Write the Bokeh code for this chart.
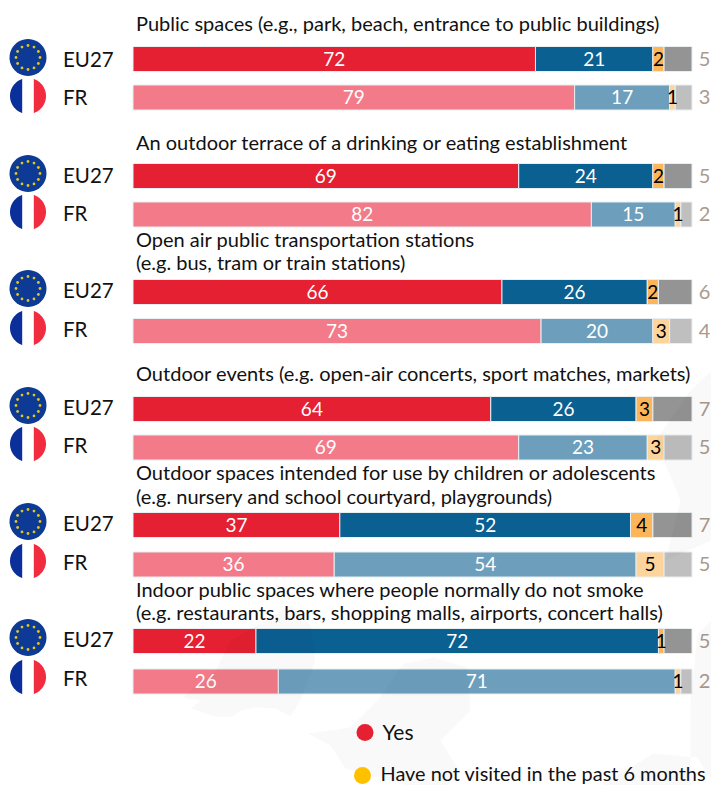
import math
from bokeh.plotting import figure
from bokeh.models import Range1d
from bokeh.core.properties import value
from bokeh.embed import file_html
from bokeh.resources import INLINE

titles = [
    ["Public spaces (e.g., park, beach, entrance to public buildings)"],
    ["An outdoor terrace of a drinking or eating establishment"],
    ["Open air public transportation stations", "(e.g. bus, tram or train stations)"],
    ["Outdoor events (e.g. open-air concerts, sport matches, markets)"],
    ["Outdoor spaces intended for use by children or adolescents", "(e.g. nursery and school courtyard, playgrounds)"],
    ["Indoor public spaces where people normally do not smoke", "(e.g. restaurants, bars, shopping malls, airports, concert halls)"],
]
eu_yes = [72, 69, 66, 64, 37, 22]
eu_no = [21, 24, 26, 26, 52, 72]
eu_nv = [2, 2, 2, 3, 4, 1]
eu_dk = [5, 5, 6, 7, 7, 5]
fr_yes = [79, 82, 73, 69, 36, 26]
fr_no = [17, 15, 20, 23, 54, 71]
fr_nv = [1, 1, 3, 3, 5, 1]
fr_dk = [3, 2, 4, 5, 5, 2]

OFF = 0
W, H = 711, 785
X0, X100 = 132.5 - OFF, 691.5 - OFF
scale = (X100 - X0) / 100
def px(x): return (x - OFF - X0) / scale
def py(y): return y - OFF

p = figure(width=W, height=H, output_backend="svg", toolbar_location=None,
           x_range=Range1d(px(OFF), px(OFF + W)), y_range=Range1d(py(OFF + H), py(OFF)),
           min_border=0, outline_line_color=None)
p.axis.visible = False
p.grid.visible = False

FONT = value("Lato")
eu_c = [58.5, 175.5, 291.5, 408.5, 524.5, 640.5]
fr_c = [97, 214, 330.5, 447, 564, 681]
eu_lab = [58, 174, 289, 406, 522, 638]
fr_lab = [96, 212, 328, 444, 561, 677]
title_y = [22.5, 141.5, [238.5, 261.5], 372.5, [471.5, 495.5], [588.5, 611.5]]
BAR_H = 25

eu_cols = ["#e42032", "#0b6092", "#fdb55a", "#949494"]
fr_cols = ["#f27a89", "#6d9fbd", "#fdd49c", "#bfbfbf"]


def row(vals, yc, cols):
    left = 0
    for v, c in zip(vals, cols):
        p.quad(left=left, right=left + v, top=py(yc - BAR_H / 2), bottom=py(yc + BAR_H / 2),
               fill_color=c, line_color="#e9eef1", line_width=1)
        left += v
    left = 0
    for i, v in enumerate(vals[:3]):
        p.text(x=[left + v / 2], y=[py(yc - 0.5)], text=[str(v)], text_font=FONT,
               text_font_size="19px", text_align="center", text_baseline="middle",
               text_color="#ffffff" if i < 2 else "#000000")
        left += v
    p.text(x=[px(704)], y=[py(yc - 0.5)], text=[str(vals[3])], text_font=FONT, text_font_size="20px",
           text_align="center", text_baseline="middle", text_color="#aa9a8e")


def circle_pts(cx, cy, r, a0=0, a1=360, n=48):
    return [(cx + r * math.cos(math.radians(a0 + (a1 - a0) * i / n)),
             cy + r * math.sin(math.radians(a0 + (a1 - a0) * i / n))) for i in range(n + 1)]


def poly(pts, color):
    p.patch([px(a) for a, _ in pts], [py(b) for _, b in pts], fill_color=color, line_color=None)


def eu_flag(cx, cy, r=18.5):
    poly(circle_pts(cx, cy, r), "#0d3a94")
    p.scatter([px(cx + 12 * math.cos(math.radians(a))) for a in range(0, 360, 30)],
              [py(cy + 12 * math.sin(math.radians(a))) for a in range(0, 360, 30)],
              marker="circle", size=2.8, fill_color="#e0c428", line_color=None)


def fr_flag(cx, cy, r=18):
    poly(circle_pts(cx, cy, r), "#ffffff")
    a = math.degrees(math.acos(5.8 / r))
    poly(circle_pts(cx, cy, r, 180 - a, 180 + a), "#0a2f9b")
    poly(circle_pts(cx, cy, r, -a, a), "#f12c3e")


for i in range(6):
    eu = [eu_yes[i], eu_no[i], eu_nv[i], eu_dk[i]]
    fr = [fr_yes[i], fr_no[i], fr_nv[i], fr_dk[i]]
    row(eu, eu_c[i], eu_cols)
    row(fr, fr_c[i], fr_cols)
    eu_flag(27.5, eu_lab[i] - 1)
    fr_flag(27.5, fr_lab[i] - 0.5)
    for lab, yc in (("EU27", eu_lab[i]), ("FR", fr_lab[i])):
        p.text(x=[px(62.5)], y=[py(yc)], text=[lab], text_font=FONT, text_font_size="20.5px",
               text_align="left", text_baseline="middle", text_color="#111111")
    ys = title_y[i] if isinstance(title_y[i], list) else [title_y[i]]
    for t, y in zip(titles[i], ys):
        p.text(x=[px(135.5)], y=[py(y)], text=[t], text_font=FONT, text_font_size="20px",
               text_align="left", text_baseline="middle", text_color="#111111")

# faint background map laid over the page
bg = [
    [(182, 697), (200, 700), (190, 708), (215, 716), (232, 716), (240, 710), (255, 707), (275, 708), (290, 716),
     (300, 700), (315, 660), (310, 625), (290, 605), (230, 640), (215, 670)],
    [(307, 733), (350, 727), (377, 700), (403, 663), (433, 657), (467, 667), (470, 710), (440, 740), (457, 767),
     (447, 785), (407, 785), (345, 768), (330, 745)],
    [(697, 633), (711, 620), (711, 780), (697, 757), (653, 753), (600, 785), (690, 785), (690, 700)],
    [(690, 390), (711, 370), (711, 540), (665, 560), (680, 500), (655, 440)],
]
p.patches([[px(a) for a, _ in s] for s in bg], [[py(b) for _, b in s] for s in bg],
          fill_color="#000000", fill_alpha=0.022, line_color=None)

# legend
legend_labels = ["Yes", "Have not visited in the past 6 months"]
legend_colors = ["#e42032", "#ffc000"]
for (lx, tx, cy, ty), lab, c, fs in zip([(364.5, 382, 732, 731), (362, 380, 775, 772)], legend_labels, legend_colors, ["21px", "19.9px"]):
    p.scatter([px(lx)], [py(cy)], marker="circle", size=17, fill_color=c, line_color=None)
    p.text(x=[px(tx)], y=[py(ty)], text=[lab], text_font=FONT, text_font_size=fs,
           text_align="left", text_baseline="middle", text_color="#111111")

open("out.html", "w").write(file_html(p, INLINE))
